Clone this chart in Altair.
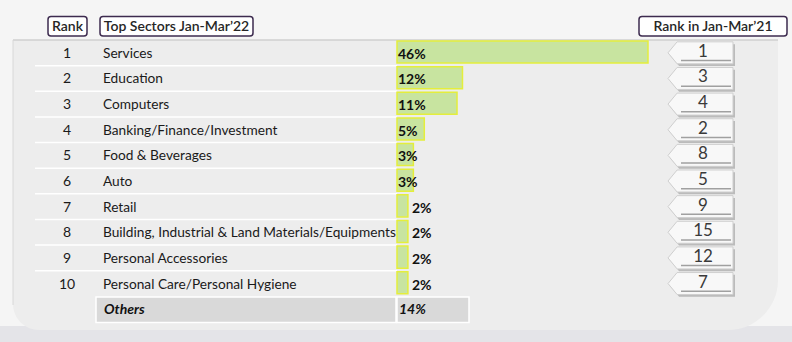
import altair as alt
import pandas as pd

ranks = [1, 2, 3, 4, 5, 6, 7, 8, 9, 10]
sectors = ["Services", "Education", "Computers", "Banking/Finance/Investment",
           "Food & Beverages", "Auto", "Retail",
           "Building, Industrial & Land Materials/Equipments",
           "Personal Accessories", "Personal Care/Personal Hygiene"]
shares = [46, 12, 11, 5, 3, 3, 2, 2, 2, 2]
prev_ranks = [1, 3, 4, 2, 8, 5, 9, 15, 12, 7]
others_label = "Others"
others_share = 14
headers = ["Rank", "Top Sectors Jan-Mar\u201922", "Rank in Jan-Mar\u201921"]

FONT = "Lato"

df = pd.DataFrame({"rank": ranks, "sector": sectors, "share": shares, "prev": prev_ranks})
df["label"] = df["share"].astype(str) + "%"
oth = pd.DataFrame({"rank": [11], "sector": [others_label], "share": [others_share],
                    "label": [f"{others_share}%"]})
one = pd.DataFrame({"a": [0]})

yscale = alt.Scale(domain=[0.5, 11.5], range=[40, 322], zero=False, nice=False)
xscale = alt.Scale(domain=[0, 46], range=[397, 648], zero=False, nice=False)

Y = alt.Y("rank:Q", scale=yscale, axis=None)

def deco_rect(x, x2, y, y2, **kw):
    return alt.Chart(one).mark_rect(**kw).encode(
        x=alt.value(x), x2=alt.value(x2), y=alt.value(y), y2=alt.value(y2))

bottom_strip = deco_rect(0, 792, 326, 342, color="#e4e4e8")
panel = deco_rect(13, 778, 40, 330, color="#ededed", cornerRadiusBottomLeft=26,
                  cornerRadiusBottomRight=50)
panel_top = alt.Chart(one).mark_rule(color="#cfcfcf", strokeWidth=1.5).encode(
    x=alt.value(13), x2=alt.value(778), y=alt.value(40))
panel_left = alt.Chart(one).mark_rule(color="#d8d8d8", strokeWidth=1).encode(
    x=alt.value(13), y=alt.value(40), y2=alt.value(305))

# header boxes
hdr_boxes = [(48, 87), (100, 253), (639, 787)]
hdr_layers = []
for (hx0, hx1), txt in zip(hdr_boxes, headers):
    hdr_layers.append(deco_rect(hx0, hx1, 16.5, 36, fill="white", stroke="#3d2b4f",
                                strokeWidth=1.5, cornerRadius=3))
    hdr_layers.append(alt.Chart(pd.DataFrame({"t": [txt]})).mark_text(
        font=FONT, fontSize=14, fontWeight=600, color="#262626", baseline="middle"
    ).encode(x=alt.value((hx0 + hx1) / 2), y=alt.value(26.5), text="t:N"))

# separators
seps = alt.Chart(df[df["rank"] <= 9]).transform_calculate(
    yb="datum.rank + 0.5").mark_rule(color="white", strokeWidth=1.5).encode(
    y=alt.Y("yb:Q", scale=yscale, axis=None), x=alt.value(35), x2=alt.value(397))

# others row boxes
oth_box = alt.Chart(oth).transform_calculate(y0="datum.rank - 0.48", y1="datum.rank + 0.52").mark_rect(
    fill="#d9d9d9", stroke="white", strokeWidth=1.5).encode(
    y=alt.Y("y0:Q", scale=yscale, axis=None), y2="y1:Q", x=alt.value(96), x2=alt.value(396))
oth_box2 = alt.Chart(oth).transform_calculate(y0="datum.rank - 0.48", y1="datum.rank + 0.52").mark_rect(
    fill="#d9d9d9", stroke="white", strokeWidth=1.5).encode(
    y=alt.Y("y0:Q", scale=yscale, axis=None), y2="y1:Q", x=alt.value(397), x2=alt.value(469))
oth_name = alt.Chart(oth).mark_text(font=FONT, fontSize=14, fontWeight="bold", fontStyle="italic",
                                    align="left", baseline="middle", color="#111", dy=1).encode(
    y=Y, x=alt.value(104), text="sector:N")
oth_val = alt.Chart(oth).mark_text(font=FONT, fontSize=14, fontWeight="bold", fontStyle="italic",
                                   align="left", baseline="middle", color="#111", dy=1).encode(
    y=Y, x=alt.value(399), text="label:N")

# bars
bars = alt.Chart(df).transform_calculate(y0="datum.rank - 0.46", y1="datum.rank + 0.4", x0="0").mark_rect(
    fill="#c8e4a0", stroke="#e4ee3c", strokeWidth=1.5).encode(
    x=alt.X("x0:Q", scale=xscale, axis=None), x2="share:Q",
    y=alt.Y("y0:Q", scale=yscale, axis=None), y2="y1:Q")

rank_txt = alt.Chart(df).mark_text(font=FONT, fontSize=14, color="#1a1a1a", baseline="middle", dy=1).encode(
    y=Y, x=alt.value(67), text="rank:Q")
sector_txt = alt.Chart(df).mark_text(font=FONT, fontSize=13.7, color="#1a1a1a", align="left",
                                     baseline="middle", dy=1).encode(
    y=Y, x=alt.value(103), text="sector:N")
pct_in = alt.Chart(df[df["share"] >= 3]).mark_text(font=FONT, fontSize=14, fontWeight="bold", color="#111",
                                                   align="left", baseline="middle", dy=2).encode(
    y=Y, x=alt.value(398), text="label:N")
pct_out = alt.Chart(df[df["share"] < 3]).mark_text(font=FONT, fontSize=14, fontWeight="bold", color="#111",
                                                   align="left", baseline="middle", dy=2, dx=4).encode(
    y=Y, x=alt.X("share:Q", scale=xscale, axis=None), text="label:N")

# rank tags
TAG = "M -1 0 L -0.72 -0.338 L 1 -0.338 L 1 0.338 L -0.72 0.338 Z"
tag_shadow = alt.Chart(df).transform_calculate(ys="datum.rank + 0.09").mark_point(
    shape=TAG, size=4225, filled=True, color="#aaaaaa", opacity=0.75).encode(
    y=alt.Y("ys:Q", scale=yscale, axis=None), x=alt.value(702.5))
tag = alt.Chart(df).mark_point(shape=TAG, size=4225, filled=True, fill="#f8f8f8", stroke="#cfcfcf",
                               strokeWidth=1, opacity=1).encode(
    y=Y, x=alt.value(700.5))
tag_line = alt.Chart(df).transform_calculate(yb="datum.rank + 0.3").mark_rule(
    color="#a0a0a0", strokeWidth=1.5).encode(
    y=alt.Y("yb:Q", scale=yscale, axis=None), x=alt.value(681), x2=alt.value(731))
tag_txt = alt.Chart(df).mark_text(font=FONT, fontSize=17, fontWeight="normal", color="#3a3a3a",
                                  baseline="middle", dy=-1).encode(
    y=Y, x=alt.value(703), text="prev:Q")

chart = alt.layer(
    bottom_strip, panel, panel_top, panel_left, *hdr_layers, seps,
    oth_box, oth_box2, bars, rank_txt, sector_txt, pct_in, pct_out, oth_name, oth_val,
    tag_shadow, tag, tag_line, tag_txt
).properties(width=792, height=342, background="#f5f5f5", padding=0,
             autosize=alt.AutoSizeParams(type="none")
).configure_view(stroke=None)

chart.save("out.html", embed_options={"renderer": "svg", "actions": False})
